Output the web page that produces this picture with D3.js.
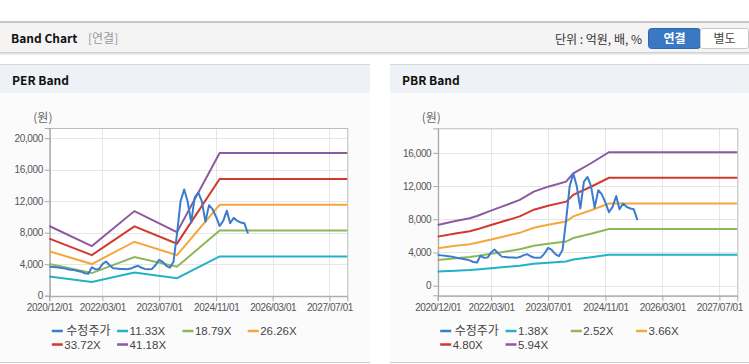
<!DOCTYPE html>
<html>
<head>
<meta charset="utf-8">
<script src="https://cdn.jsdelivr.net/npm/d3@7"></script>
<style>
  body { margin: 0; background: #fff; }
  svg { display: block; font-family: "Noto Sans CJK KR", "Noto Sans", sans-serif; }
  .tick text { font-family: "Liberation Sans", Arial, sans-serif; font-size: 10px; fill: #555; letter-spacing: -0.4px; }
</style>
</head>
<body>
<div id="chart"></div>
<script>
// monthly adjusted price (수정주가), shared by both charts
var priceMonths = ["2020-12","2021-01","2021-02","2021-03","2021-04","2021-05","2021-06","2021-07","2021-08","2021-09","2021-10","2021-11",
  "2021-12","2022-01","2022-02","2022-03","2022-04","2022-05","2022-06","2022-07","2022-08","2022-09","2022-10","2022-11",
  "2022-12","2023-01","2023-02","2023-03","2023-04","2023-05","2023-06","2023-07","2023-08","2023-09","2023-10","2023-11",
  "2023-12","2024-01","2024-02","2024-03","2024-04","2024-05","2024-06","2024-07","2024-08","2024-09","2024-10","2024-11",
  "2024-12","2025-01","2025-02","2025-03","2025-04","2025-05","2025-06","2025-07","2025-08"];
var priceValues = [3700,3650,3600,3550,3500,3400,3300,3250,3150,3050,2850,2800,
  3600,3350,3400,4000,4350,3900,3500,3450,3400,3400,3350,3450,
  3650,3800,3550,3400,3350,3400,3900,4550,4300,3800,3550,4300,
  7800,12000,13500,12000,9300,12500,13100,12000,9400,11500,11000,10000,
  8850,9500,10800,9200,9900,9500,9300,9200,7900];

// PER band
var perMonths = ["2020-12","2021-12","2022-12","2023-12","2024-12","2027-12"];
var perNames = ["11.33X","18.79X","26.26X","33.72X","41.18X"];
var per1133 = [2436,1733,2957,2221,4985,4985];
var per1879 = [4040,2875,4904,3683,8268,8268];
var per2626 = [5646,4018,6854,5147,11554,11554];
var per3372 = [7250,5159,8801,6609,14837,14837];
var per4118 = [8854,6301,10748,8071,18119,18119];
var perTicks = [0,4000,8000,12000,16000,20000];

// PBR band
var pbrMonths = ["2020-12","2021-05","2021-09","2021-11","2022-03","2022-06","2022-11","2023-03","2023-07","2023-12","2024-02","2024-07","2024-12","2027-12"];
var pbrNames = ["1.38X","2.52X","3.66X","4.80X","5.94X"];
var pbr138 = [1699,1811,1886,1951,2100,2212,2400,2632,2771,2912,3146,3427,3734,3734];
var pbr252 = [3102,3306,3445,3563,3835,4040,4382,4806,5060,5317,5746,6257,6819,6819];
var pbr366 = [4505,4802,5003,5175,5571,5867,6365,6980,7349,7723,8345,9088,9904,9904];
var pbr480 = [5909,6298,6562,6787,7306,7694,8347,9154,9638,10128,10944,11918,12989,12989];
var pbr594 = [7312,7793,8120,8399,9041,9522,10330,11328,11928,12533,13543,14749,16074,16074];
var pbrTicks = [0,4000,8000,12000,16000];

var xTickMonths = ["2020-12","2022-03","2023-07","2024-11","2026-03","2027-07"];
var priceName = "수정주가";
var colors = ["#3b7ccf","#22b1c5","#8db75a","#f4a83a","#d2392e","#8d5aa1"];

var W = 749, H = 364;
var parseM = d3.timeParse("%Y-%m");
var fmtTick = d3.timeFormat("%Y/%m/01");

var svg = d3.select("#chart").append("svg")
    .attr("width", W)
    .attr("height", H);

// ---- top header bar
svg.append("rect").attr("x", 0).attr("y", 22).attr("width", W).attr("height", 30).attr("fill", "#f4f4f4");
svg.append("line").attr("x1", 0).attr("x2", W).attr("y1", 22).attr("y2", 22).attr("stroke", "#b4b4b4").attr("stroke-width", 1.5);
[["#cfcfcf", 52.5], ["#e2e2e2", 53.5], ["#f0f0f0", 54.5]].forEach(function(s) {
  svg.append("line").attr("x1", 0).attr("x2", W).attr("y1", s[1]).attr("y2", s[1]).attr("stroke", s[0]);
});
svg.append("text").attr("x", 11).attr("y", 43)
    .style("font-size", "12px").style("font-weight", "bold").attr("fill", "#111")
    .text("Band Chart");
svg.append("text").attr("x", 88).attr("y", 43)
    .style("font-size", "12px").attr("fill", "#999")
    .text("[연결]");
svg.append("text").attr("x", 642).attr("y", 43.5).attr("text-anchor", "end")
    .style("font-size", "12px").attr("fill", "#333")
    .text("단위 : 억원, 배, %");
svg.append("rect").attr("x", 648.5).attr("y", 28.5).attr("width", 52).attr("height", 20).attr("rx", 3)
    .attr("fill", "#3a78c4").attr("stroke", "#2f67ad");
svg.append("text").attr("x", 674.5).attr("y", 43).attr("text-anchor", "middle")
    .style("font-size", "12px").style("font-weight", "bold").attr("fill", "#fff")
    .text("연결");
svg.append("rect").attr("x", 700.5).attr("y", 28.5).attr("width", 48).attr("height", 20).attr("rx", 2)
    .attr("fill", "#fff").attr("stroke", "#c8c8c8");
svg.append("text").attr("x", 724.5).attr("y", 43).attr("text-anchor", "middle")
    .style("font-size", "12px").attr("fill", "#444")
    .text("별도");

function drawPanel(p) {
  var g = svg.append("g");

  // panel box
  g.append("rect").attr("x", p.px).attr("y", 64).attr("width", p.pw).attr("height", 299).attr("fill", "#fbfbfc");
  g.append("rect").attr("x", p.px).attr("y", 64.5).attr("width", p.pw).attr("height", 28.5).attr("fill", "#eef2f6");
  g.append("line").attr("x1", p.px).attr("x2", p.px + p.pw).attr("y1", 64.5).attr("y2", 64.5).attr("stroke", "#d6d6d6");
  g.append("line").attr("x1", p.px).attr("x2", p.px + p.pw).attr("y1", 362.5).attr("y2", 362.5).attr("stroke", "#cacaca");
  g.append("text").attr("x", p.px + 12).attr("y", 85)
      .style("font-size", "12px").style("font-weight", "bold").attr("fill", "#111")
      .text(p.title);
  g.append("text").attr("x", p.left - 16).attr("y", 122)
      .style("font-size", "12px").attr("fill", "#666")
      .text("(원)");

  var x = d3.scaleTime()
      .domain([parseM("2020-12"), parseM("2027-12")])
      .range([p.left, p.right]);
  var y = d3.scaleLinear()
      .domain(p.yDomain)
      .range([p.bottom, p.top]);

  g.append("rect").attr("x", p.left).attr("y", p.top).attr("width", p.right - p.left).attr("height", p.bottom - p.top)
      .attr("fill", "#fff");

  // gridlines
  g.append("g").selectAll("line").data(xTickMonths.map(parseM)).enter().append("line")
      .attr("x1", function(d) { return Math.round(x(d)) + 0.5; })
      .attr("x2", function(d) { return Math.round(x(d)) + 0.5; })
      .attr("y1", p.top).attr("y2", p.bottom)
      .attr("stroke", "#e6e6e6");
  g.append("g").selectAll("line").data(p.yTicks).enter().append("line")
      .attr("x1", p.left).attr("x2", p.right)
      .attr("y1", function(d) { return Math.round(y(d)) + 0.5; })
      .attr("y2", function(d) { return Math.round(y(d)) + 0.5; })
      .attr("stroke", "#e6e6e6");

  // frame
  g.append("rect").attr("x", p.left + 0.5).attr("y", p.top + 0.5)
      .attr("width", p.right - p.left).attr("height", p.bottom - p.top)
      .attr("fill", "none").attr("stroke", "#bdbdbd");

  // axes
  var xAxis = g.append("g")
      .attr("transform", "translate(0," + (p.bottom + 0.5) + ")")
      .call(d3.axisBottom(x).tickValues(xTickMonths.map(parseM)).tickFormat(fmtTick).tickSize(5).tickPadding(3));
  var yAxis = g.append("g")
      .attr("transform", "translate(" + (p.left + 0.5) + ",0)")
      .call(d3.axisLeft(y).tickValues(p.yTicks).tickFormat(d3.format(",")).tickSize(5).tickPadding(2));
  [xAxis, yAxis].forEach(function(a) {
    a.select(".domain").attr("stroke", "#a8a8a8");
    a.selectAll(".tick line").attr("stroke", "#a8a8a8");
  });

  // band lines
  var bandLine = d3.line()
      .x(function(d) { return x(d[0]); })
      .y(function(d) { return y(d[1]); });
  p.bands.forEach(function(vals, i) {
    var pts = p.months.map(function(m, j) { return [parseM(m), vals[j]]; });
    g.append("path")
        .attr("d", bandLine(pts))
        .attr("fill", "none")
        .attr("stroke", colors[i + 1])
        .attr("stroke-width", 2);
  });

  // price line
  var pts = priceMonths.map(function(m, j) { return [parseM(m), priceValues[j]]; });
  g.append("path")
      .attr("d", bandLine(pts))
      .attr("fill", "none")
      .attr("stroke", colors[0])
      .attr("stroke-width", 2)
      .attr("stroke-linejoin", "round");

  // legend
  var names = [priceName].concat(p.names);
  var lg = g.append("g").selectAll("g").data(names).enter().append("g")
      .attr("transform", function(d, i) {
        return "translate(" + (p.left + 2.5 + (i % 4) * 65.3) + "," + (331 + Math.floor(i / 4) * 13.5) + ")";
      });
  lg.append("line")
      .attr("x1", 0).attr("x2", 11).attr("y1", 0).attr("y2", 0)
      .attr("stroke", function(d, i) { return colors[i]; })
      .attr("stroke-width", 2.5);
  lg.append("text")
      .attr("x", function(d, i) { return i === 0 ? 14.5 : 12.5; })
      .attr("y", 4)
      .style("font-family", function(d, i) { return i === 0 ? "'Noto Sans CJK KR', sans-serif" : "'Liberation Sans', Arial, sans-serif"; })
      .style("font-size", function(d, i) { return i === 0 ? "12px" : "11.5px"; })
      .attr("fill", "#444")
      .text(function(d) { return d; });
}

drawPanel({
  title: "PER Band", px: 0, pw: 370,
  left: 49.3, right: 347.3, top: 128, bottom: 295.7,
  yDomain: [0, 21300], yTicks: perTicks,
  months: perMonths, names: perNames,
  bands: [per1133, per1879, per2626, per3372, per4118]
});

drawPanel({
  title: "PBR Band", px: 390, pw: 359,
  left: 437.7, right: 737.3, top: 128.3, bottom: 295.3,
  yDomain: [-1160, 18960], yTicks: pbrTicks,
  months: pbrMonths, names: pbrNames,
  bands: [pbr138, pbr252, pbr366, pbr480, pbr594]
});
</script>
</body>
</html>
